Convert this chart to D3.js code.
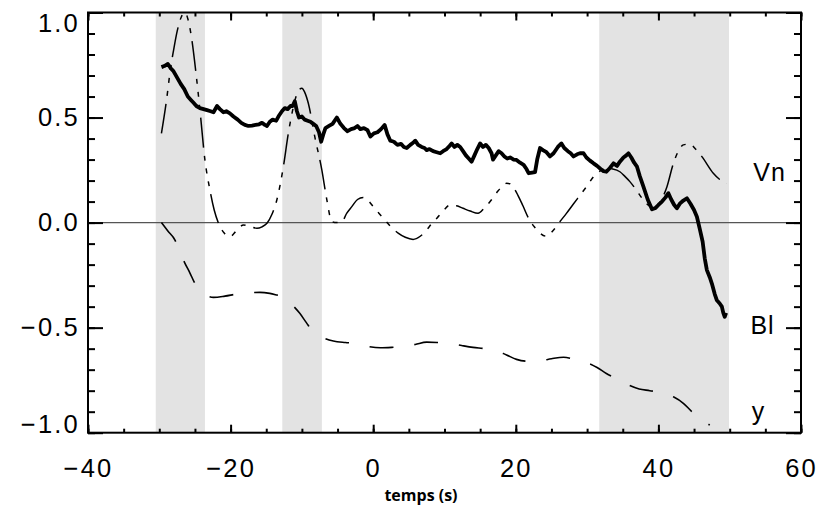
<!DOCTYPE html>
<html><head><meta charset="utf-8">
<script src="https://cdn.jsdelivr.net/npm/d3@7"></script>
<style>body{margin:0;background:#fff}svg{display:block}</style>
</head><body>
<svg id="c" width="822" height="508"></svg>
<script>
// ---- data ----
const bandsStart = [-30.5, -12.75, 31.7];
const bandsEnd   = [-23.6, -7.2, 49.9];

const blX = [-29.7,-29.3,-28.8,-28.4,-28.0,-27.5,-27.0,-26.5,-26.0,-25.6,-25.2,-24.8,-24.3,-23.8,-23.3,-22.8,-22.4,-21.9,-21.5,-21.0,-20.6,-20.1,-19.6,-19.0,-18.5,-18.0,-17.5,-17.0,-16.5,-16.0,-15.6,-15.2,-14.9,-14.5,-14.1,-13.6,-13.2,-12.8,-12.4,-12.0,-11.6,-11.3,-11.0,-10.7,-10.4,-10.0,-9.6,-9.2,-8.8,-8.4,-8.0,-7.6,-7.3,-7.0,-6.7,-6.2,-5.7,-5.1,-4.6,-4.1,-3.6,-3.1,-2.6,-2.2,-1.8,-1.3,-0.8,-0.4,0.1,0.6,1.1,1.6,2.0,2.4,2.9,3.4,3.9,4.3,4.7,5.2,5.6,5.9,6.3,6.8,7.2,7.5,7.9,8.4,8.9,9.4,9.8,10.3,10.7,11.0,11.4,11.8,12.2,12.6,13.0,13.4,13.8,14.2,14.6,15.0,15.4,15.8,16.2,16.6,16.8,17.2,17.6,18.0,18.4,18.8,19.2,19.7,20.1,20.6,21.1,21.5,21.8,22.3,22.7,23.0,23.4,23.8,24.3,24.8,25.3,25.9,26.4,26.8,27.3,27.7,28.1,28.6,29.0,29.5,29.9,30.4,30.9,31.4,31.9,32.3,32.7,33.2,33.7,34.2,34.6,35.1,35.5,35.8,36.2,36.6,37.0,37.4,37.9,38.5,39.1,39.6,40.0,40.5,41.0,41.4,41.8,42.2,42.6,43.0,43.5,44.0,44.5,45.0,45.4,45.8,46.2,46.5,46.8,47.2,47.5,47.9,48.2,48.6,48.9,49.1,49.3,49.5];
const blY = [0.74,0.745,0.755,0.735,0.72,0.69,0.66,0.635,0.60,0.585,0.57,0.555,0.545,0.54,0.535,0.53,0.525,0.555,0.54,0.525,0.53,0.52,0.505,0.49,0.475,0.465,0.46,0.462,0.465,0.468,0.475,0.465,0.46,0.48,0.49,0.485,0.51,0.53,0.545,0.54,0.555,0.555,0.578,0.53,0.50,0.505,0.49,0.485,0.48,0.47,0.46,0.43,0.385,0.42,0.45,0.46,0.47,0.50,0.47,0.45,0.435,0.445,0.45,0.46,0.445,0.45,0.44,0.41,0.425,0.43,0.445,0.465,0.42,0.39,0.385,0.37,0.375,0.36,0.355,0.37,0.38,0.39,0.37,0.36,0.355,0.345,0.35,0.34,0.335,0.33,0.34,0.35,0.365,0.377,0.36,0.37,0.36,0.34,0.32,0.305,0.29,0.32,0.35,0.377,0.36,0.37,0.355,0.33,0.30,0.32,0.34,0.33,0.315,0.305,0.31,0.30,0.298,0.285,0.275,0.255,0.235,0.238,0.24,0.30,0.355,0.345,0.335,0.315,0.33,0.36,0.377,0.355,0.34,0.33,0.315,0.325,0.33,0.33,0.31,0.295,0.282,0.27,0.255,0.245,0.242,0.26,0.282,0.27,0.29,0.31,0.32,0.33,0.31,0.285,0.266,0.22,0.171,0.11,0.063,0.07,0.084,0.10,0.12,0.14,0.11,0.085,0.068,0.09,0.105,0.116,0.09,0.06,0.028,-0.03,-0.09,-0.17,-0.226,-0.26,-0.29,-0.34,-0.37,-0.385,-0.40,-0.43,-0.448,-0.43];

const vnX = [-29.7,-29.0,-28.4,-28.0,-27.5,-26.9,-26.4,-26.0,-25.5,-24.8,-24.3,-23.6,-22.9,-22.3,-21.7,-20.9,-20.1,-19.2,-18.2,-17.2,-16.3,-15.6,-14.9,-14.2,-13.5,-12.6,-11.9,-11.2,-10.6,-10.0,-9.6,-9.1,-8.2,-7.2,-6.5,-5.8,-5.1,-4.4,-3.7,-3.0,-2.2,-1.4,-0.7,0.0,0.8,1.65,2.5,3.5,4.5,5.6,6.6,7.5,8.2,8.9,9.8,10.8,11.7,12.6,13.6,14.7,15.6,16.4,17.5,18.2,18.7,19.2,19.6,20.3,21.0,21.8,22.6,23.4,24.3,25.3,26.2,27.1,28.0,29.0,30.0,30.9,31.8,32.7,33.6,34.6,35.3,36.0,36.9,37.7,38.5,39.3,40.0,40.6,41.2,42.1,42.8,43.5,44.4,45.2,46.1,47.7,48.6,49.6];
const vnY = [0.425,0.58,0.74,0.82,0.91,0.98,1.0,0.97,0.885,0.695,0.536,0.298,0.155,0.06,-0.003,-0.05,-0.067,-0.04,-0.011,-0.02,-0.027,-0.02,-0.003,0.04,0.11,0.266,0.425,0.55,0.62,0.64,0.62,0.568,0.41,0.25,0.108,0.004,0.0,0.004,0.045,0.076,0.11,0.12,0.105,0.076,0.045,0.012,-0.02,-0.05,-0.07,-0.08,-0.065,-0.035,-0.005,0.02,0.055,0.084,0.08,0.068,0.055,0.044,0.07,0.10,0.15,0.175,0.187,0.185,0.171,0.13,0.08,0.02,-0.02,-0.05,-0.065,-0.035,0.005,0.044,0.085,0.13,0.175,0.218,0.245,0.258,0.255,0.242,0.22,0.195,0.155,0.116,0.085,0.07,0.085,0.12,0.171,0.282,0.34,0.37,0.374,0.35,0.314,0.235,0.205,0.187];

const yX = [-29.7,-28.8,-27.8,-27.0,-26.4,-25.7,-25.0,-24.0,-23.2,-22.4,-20.8,-19.1,-17.5,-15.9,-14.5,-13.5,-12.6,-11.4,-10.3,-9.4,-8.4,-7.0,-5.6,-3.9,-2.3,-0.6,1.0,2.6,4.2,5.9,7.5,9.1,10.8,12.4,14.0,15.7,17.3,18.7,20.1,21.7,23.4,25.0,26.7,28.4,30.0,31.4,32.7,34.2,35.8,37.3,38.8,40.5,42.1,43.5,44.7,46.0,47.2];
const yY = [0.0,-0.04,-0.083,-0.15,-0.194,-0.24,-0.29,-0.33,-0.35,-0.356,-0.35,-0.34,-0.335,-0.332,-0.337,-0.345,-0.353,-0.39,-0.432,-0.475,-0.52,-0.548,-0.564,-0.571,-0.575,-0.59,-0.596,-0.594,-0.59,-0.58,-0.569,-0.571,-0.575,-0.585,-0.594,-0.6,-0.61,-0.63,-0.651,-0.66,-0.658,-0.648,-0.641,-0.652,-0.667,-0.69,-0.718,-0.745,-0.773,-0.792,-0.8,-0.81,-0.829,-0.86,-0.9,-0.935,-0.964];

const seriesNames = ["Vn", "Bl", "y"];
const seriesLabelX = [53.3, 52.9, 53.1];
const seriesLabelY = [0.2, -0.53, -0.94];

const xTicks = [-40, -20, 0, 20, 40, 60];
const yTicks = [-1.0, -0.5, 0.0, 0.5, 1.0];
const xTitle = "temps (s)";

// ---- layout ----
const W = 822, H = 508;
const m = {l: 88, t: 12.5, r: 21, b: 75.3};
const svg = d3.select("#c");
const x = d3.scaleLinear().domain([-40, 60]).range([m.l, W - m.r]);
const y = d3.scaleLinear().domain([-1, 1]).range([H - m.b, m.t]);
const font = "'Liberation Sans', Arial, sans-serif";

// bands
svg.append("g").selectAll("rect").data(bandsStart).join("rect")
  .attr("x", (d) => x(d)).attr("width", (d, i) => x(bandsEnd[i]) - x(d))
  .attr("y", y(1)).attr("height", y(-1) - y(1))
  .attr("fill", "#e3e3e3");

// zero line
svg.append("line").attr("x1", x(-40)).attr("x2", x(60))
  .attr("y1", y(0)).attr("y2", y(0)).attr("stroke", "#555").attr("stroke-width", 1.4);

const line = d3.line().x(d => x(d[0])).y(d => y(d[1])).curve(d3.curveMonotoneX);
const zip = (a, b) => a.map((v, i) => [v, b[i]]);

svg.append("path").datum(zip(yX, yY)).attr("d", line)
  .attr("fill", "none").attr("stroke", "#000").attr("stroke-width", 1.6)
  .attr("stroke-dasharray", "24,21");
svg.append("path").datum(zip(vnX, vnY)).attr("d", line)
  .attr("fill", "none").attr("stroke", "#000").attr("stroke-width", 1.5)
  .attr("stroke-dasharray", "30,8,5,8,5,8,5,8");
svg.append("path").datum(zip(blX, blY)).attr("d", d3.line().x(d => x(d[0])).y(d => y(d[1])))
  .attr("fill", "none").attr("stroke", "#000").attr("stroke-width", 3.8)
  .attr("stroke-linejoin", "round");

// axes
const xMinor = d3.range(-40, 61, 5);
const yMinor = d3.range(-10, 11, 1).map(v => v / 10);
function styleAxis(g) {
  g.select(".domain").remove();
  g.selectAll("line").attr("stroke", "#000").attr("stroke-width", 2);
}
const axB = svg.append("g").attr("transform", `translate(0,${y(-1)})`)
  .call(d3.axisBottom(x).tickValues(xMinor).tickSize(-4).tickFormat(""));
styleAxis(axB);
const axB2 = svg.append("g").attr("transform", `translate(0,${y(-1)})`)
  .call(d3.axisBottom(x).tickValues(xTicks).tickSize(-8).tickPadding(26).tickFormat(d3.format("d")));
styleAxis(axB2);
axB2.selectAll("text").attr("font-family", font).attr("font-size", 25.5).attr("fill", "#000")
  .attr("letter-spacing", 2.2);
const axT = svg.append("g").attr("transform", `translate(0,${y(1)})`)
  .call(d3.axisTop(x).tickValues(xMinor).tickSize(-4).tickFormat(""));
styleAxis(axT);
svg.append("g").attr("transform", `translate(0,${y(1)})`)
  .call(d3.axisTop(x).tickValues(xTicks).tickSize(-8).tickFormat("")).call(styleAxis);

const axL = svg.append("g").attr("transform", `translate(${x(-40)},0)`)
  .call(d3.axisLeft(y).tickValues(yMinor).tickSize(-7).tickFormat(""));
styleAxis(axL);
const axL2 = svg.append("g").attr("transform", `translate(${x(-40)},0)`)
  .call(d3.axisLeft(y).tickValues(yTicks).tickSize(-15).tickPadding(10).tickFormat(d3.format(".1f")));
styleAxis(axL2);
axL2.selectAll("text").attr("font-family", font).attr("font-size", 25.5).attr("fill", "#000")
  .attr("letter-spacing", 2.2).attr("x", -8);
axL2.selectAll(".tick").filter(d => d === 1).select("text").attr("dy", "0.75em");
axL2.selectAll(".tick").filter(d => d === -1).select("text").attr("dy", "0.0em");

svg.append("g").attr("transform", `translate(${x(60)},0)`)
  .call(d3.axisRight(y).tickValues(yMinor).tickSize(-7).tickFormat("")).call(styleAxis);
svg.append("g").attr("transform", `translate(${x(60)},0)`)
  .call(d3.axisRight(y).tickValues(yTicks).tickSize(-15).tickFormat("")).call(styleAxis);

// frame
svg.append("rect").attr("x", x(-40)).attr("y", y(1)).attr("width", x(60) - x(-40))
  .attr("height", y(-1) - y(1)).attr("fill", "none").attr("stroke", "#000").attr("stroke-width", 2);

// series labels
svg.append("g").selectAll("text").data(seriesNames).join("text")
  .attr("x", (d, i) => x(seriesLabelX[i])).attr("y", (d, i) => y(seriesLabelY[i]))
  .attr("font-family", font).attr("font-size", 25).attr("letter-spacing", 1)
  .text(d => d);

// x title
svg.append("text").attr("x", x(6.7)).attr("y", 501)
  .attr("text-anchor", "middle").attr("font-family", "'Open Sans', sans-serif")
  .attr("font-weight", "bold").attr("font-size", 16).text(xTitle);
</script>
</body></html>
